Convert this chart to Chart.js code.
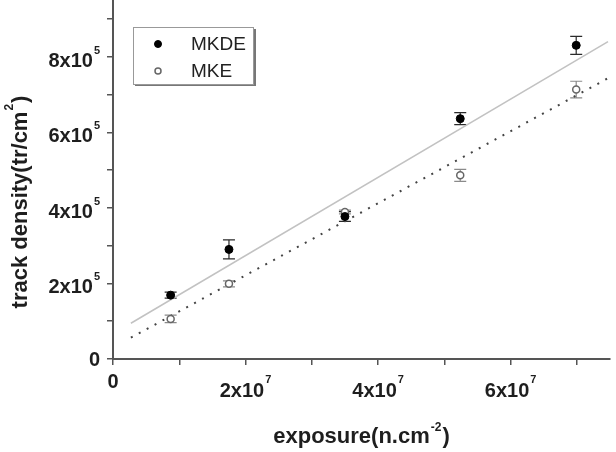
<!DOCTYPE html>
<html>
<head>
<meta charset="utf-8">
<script src="https://cdn.jsdelivr.net/npm/chart.js@4.4.1/dist/chart.umd.min.js"></script>
<style>
  html, body { margin: 0; padding: 0; background: #fff; }
  canvas { display: block; }
</style>
</head>
<body>
<canvas id="track-chart" width="616" height="452"></canvas>
<script>
// exposure (n.cm^-2) of the five irradiations
const exposure = [0.87e7, 1.75e7, 3.5e7, 5.24e7, 6.99e7];

// track density (tr/cm^2) with error bars
const mkde = [1.69e5, 2.9e5, 3.77e5, 6.36e5, 8.3e5];
const mkdeErr = [0.08e5, 0.25e5, 0.13e5, 0.16e5, 0.24e5];
const mke = [1.06e5, 1.99e5, 3.89e5, 4.86e5, 7.13e5];
const mkeErr = [0.1e5, 0.08e5, 0.05e5, 0.16e5, 0.22e5];

// end points of the linear fits
const fitX = [0.27e7, 7.47e7];
const fitMkde = [0.946e5, 8.40e5];
const fitMke = [0.564e5, 7.43e5];

// tick labels: [mantissa, exponent]
const xTicks = [0, 2e7, 4e7, 6e7];
const xTickLabels = [['0', ''], ['2x10', '7'], ['4x10', '7'], ['6x10', '7']];
const yTicks = [0, 2e5, 4e5, 6e5, 8e5];
const yTickLabels = [['0', ''], ['2x10', '5'], ['4x10', '5'], ['6x10', '5'], ['8x10', '5']];

const FONT = '"Liberation Sans", Arial, sans-serif';
const axisColor = '#555';
const textColor = '#1e1e1e';

const toPoints = (xs, ys) => xs.map((x, i) => ({ x, y: ys[i] }));

// minor + major tick marks every `step` (chart.js squeezes the spacing for big numbers)
const everyStep = (step) => (scale) => {
  const n = Math.floor(scale.max / step + 1e-9);
  scale.ticks = Array.from({ length: n + 1 }, (_, i) => ({ value: i * step }));
};

// draw "base" + raised "sup" starting at x
const drawSup = (ctx, x, baseline, base, sup, size, supSize, rise) => {
  ctx.font = `bold ${size}px ${FONT}`;
  ctx.fillText(base, x, baseline);
  const w = ctx.measureText(base).width;
  if (!sup) return w;
  ctx.font = `bold ${supSize}px ${FONT}`;
  ctx.fillText(sup, x + w + 1, baseline - rise);
  return w + 1 + ctx.measureText(sup).width;
};

const measureSup = (ctx, base, sup, size, supSize) => {
  ctx.font = `bold ${size}px ${FONT}`;
  let w = ctx.measureText(base).width;
  if (sup) {
    ctx.font = `bold ${supSize}px ${FONT}`;
    w += 1 + ctx.measureText(sup).width;
  }
  return w;
};

const errorBars = {
  id: 'errorBars',
  beforeDatasetsDraw(chart) {
    const { ctx, scales: { x, y } } = chart;
    const sets = [[mkde, mkdeErr, '#2a2a2a'], [mke, mkeErr, '#8a8a8a']];
    ctx.save();
    ctx.lineWidth = 1.2;
    sets.forEach(([vals, errs, color]) => {
      ctx.strokeStyle = color;
      exposure.forEach((ex, i) => {
        const px = x.getPixelForValue(ex);
        const top = y.getPixelForValue(vals[i] + errs[i]);
        const bot = y.getPixelForValue(vals[i] - errs[i]);
        ctx.beginPath();
        ctx.moveTo(px, top);
        ctx.lineTo(px, bot);
        ctx.moveTo(px - 6, top);
        ctx.lineTo(px + 6, top);
        ctx.moveTo(px - 6, bot);
        ctx.lineTo(px + 6, bot);
        ctx.stroke();
      });
    });
    ctx.restore();
  }
};

const labels = {
  id: 'labels',
  afterDraw(chart) {
    const { ctx, scales: { x, y } } = chart;
    ctx.save();
    ctx.fillStyle = textColor;
    ctx.textBaseline = 'alphabetic';
    ctx.textAlign = 'left';

    // x tick labels (top aligned boxes, like the original)
    xTicks.forEach((v, i) => {
      const [base, sup] = xTickLabels[i];
      const w = measureSup(ctx, base, sup, 20, 11);
      const px = x.getPixelForValue(v);
      drawSup(ctx, px - w / 2, sup ? 397 : 388, base, sup, 20, 11, 14);
    });

    // y tick labels, right aligned
    yTicks.forEach((v, i) => {
      const [base, sup] = yTickLabels[i];
      const w = measureSup(ctx, base, sup, 20, 11);
      const py = y.getPixelForValue(v);
      drawSup(ctx, 100 - w, sup ? py + 10 : py + 7, base, sup, 20, 11, 13);
    });

    // axis titles
    const xt = ['exposure(n.cm', '-2', ')'];
    ctx.font = `bold 22px ${FONT}`;
    let w0 = ctx.measureText(xt[0]).width;
    let w2 = ctx.measureText(xt[2]).width;
    ctx.font = `bold 12px ${FONT}`;
    let w1 = ctx.measureText(xt[1]).width;
    let sx = (x.left + x.right) / 2 - (w0 + w1 + w2 + 2) / 2;
    ctx.font = `bold 22px ${FONT}`;
    ctx.fillText(xt[0], sx, 443);
    ctx.fillText(xt[2], sx + w0 + w1 + 2, 443);
    ctx.font = `bold 12px ${FONT}`;
    ctx.fillText(xt[1], sx + w0 + 1, 431);

    const yt = ['track density(tr/cm', '2', ')'];
    ctx.font = `bold 22px ${FONT}`;
    w0 = ctx.measureText(yt[0]).width;
    w2 = ctx.measureText(yt[2]).width;
    ctx.font = `bold 12px ${FONT}`;
    w1 = ctx.measureText(yt[1]).width;
    ctx.translate(27, 202);
    ctx.rotate(-Math.PI / 2);
    sx = -(w0 + w1 + w2 + 2) / 2;
    ctx.font = `bold 22px ${FONT}`;
    ctx.fillText(yt[0], sx, 0);
    ctx.fillText(yt[2], sx + w0 + w1 + 2, 0);
    ctx.font = `bold 12px ${FONT}`;
    ctx.fillText(yt[1], sx + w0 + 1, -14);
    ctx.restore();
  }
};

const legendBox = {
  id: 'legendBox',
  afterDraw(chart) {
    const { ctx } = chart;
    const items = chart.data.datasets.filter((d) => d.inLegend);
    ctx.save();
    // shadow on the right and bottom
    ctx.fillStyle = '#777';
    ctx.fillRect(135, 84, 121, 2);
    ctx.fillRect(254, 29, 2, 57);
    ctx.strokeStyle = '#999';
    ctx.lineWidth = 1;
    ctx.strokeRect(133.5, 27.5, 120, 57);
    items.forEach((d, i) => {
      const cy = 44 + i * 27;
      ctx.beginPath();
      ctx.arc(158, cy, d.pointRadius - 0.5, 0, Math.PI * 2);
      ctx.fillStyle = d.pointBackgroundColor;
      ctx.fill();
      ctx.lineWidth = d.pointBorderWidth;
      ctx.strokeStyle = d.pointBorderColor;
      ctx.stroke();
      ctx.fillStyle = '#222';
      ctx.font = `19px ${FONT}`;
      ctx.textBaseline = 'middle';
      ctx.fillText(d.label, 191, cy + 1);
    });
    ctx.restore();
  }
};

const chartEl = document.getElementById('track-chart');

const config = {
  type: 'scatter',
  data: {
    datasets: [
      {
        label: 'MKDE',
        inLegend: true,
        data: toPoints(exposure, mkde),
        pointRadius: 4,
        pointBackgroundColor: '#000',
        pointBorderColor: '#000',
        pointBorderWidth: 1,
        order: 1,
      },
      {
        label: 'MKE',
        inLegend: true,
        data: toPoints(exposure, mke),
        pointRadius: 3.5,
        pointBackgroundColor: '#fff',
        pointBorderColor: '#666',
        pointBorderWidth: 1.5,
        order: 1,
      },
      {
        label: 'MKDE fit',
        data: toPoints(fitX, fitMkde),
        showLine: true,
        pointRadius: 0,
        borderColor: '#c2c2c2',
        borderWidth: 1.5,
        order: 2,
      },
      {
        label: 'MKE fit',
        data: toPoints(fitX, fitMke),
        showLine: true,
        pointRadius: 0,
        borderColor: '#444',
        borderWidth: 2,
        borderDash: [2, 7],
        order: 2,
      },
    ],
  },
  options: {
    responsive: false,
    devicePixelRatio: 1,
    animation: false,
    layout: { autoPadding: false, padding: { top: 0, right: 6, bottom: 0, left: 0 } },
    plugins: {
      legend: { display: false },
      tooltip: { enabled: false },
    },
    scales: {
      x: {
        type: 'linear',
        min: 0,
        max: 7.5e7,
        ticks: { display: false, autoSkip: false },
        grid: { drawOnChartArea: false, drawTicks: true, tickLength: 6, color: axisColor, lineWidth: 1.5 },
        border: { color: axisColor, width: 2 },
        afterBuildTicks: everyStep(1e7),
        afterFit: (scale) => { scale.height = 93; },
      },
      y: {
        type: 'linear',
        min: 0,
        max: 9.5e5,
        ticks: { display: false, autoSkip: false },
        grid: { drawOnChartArea: false, drawTicks: true, tickLength: 6, color: axisColor, lineWidth: 1.5 },
        border: { color: axisColor, width: 2 },
        afterBuildTicks: everyStep(1e5),
        afterFit: (scale) => { scale.width = 113; },
      },
    },
  },
  plugins: [errorBars, labels, legendBox],
};

new Chart(chartEl, config);
</script>
</body>
</html>
